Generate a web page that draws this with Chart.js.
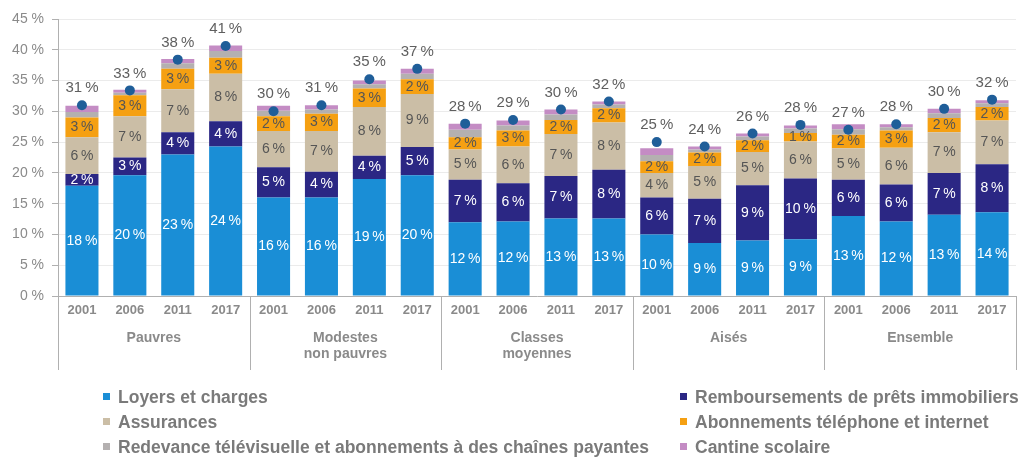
<!DOCTYPE html>
<html>
<head>
<meta charset="utf-8">
<script src="https://cdn.jsdelivr.net/npm/chart.js@4"></script>
<style>
  body { margin: 0; background: #fff; }
  #wrap { position: relative; width: 1023px; height: 457px; }
  .leg { position: absolute; font: bold 17.5px "Liberation Sans", Arial, sans-serif; color: #7a7a7a; white-space: nowrap; }
  .leg i { display: inline-block; width: 7px; height: 7px; margin-right: 8px; vertical-align: 3px; }
</style>
</head>
<body>
<div id="wrap">
  <canvas id="chart" width="1023" height="457"></canvas>
  <div id="legend"></div>
</div>
<script>
const years = ["2001", "2006", "2011", "2017"];
const groups = [["Pauvres"], ["Modestes", "non pauvres"], ["Classes", "moyennes"], ["Aisés"], ["Ensemble"]];

const loyers  = [17.9, 19.6, 23.0, 24.3, 16.0, 16.0, 19.0, 19.6, 12.0, 12.1, 12.6, 12.6, 10.0, 8.6, 9.0, 9.2, 13.0, 12.1, 13.2, 13.6];
const remb    = [1.9, 2.9, 3.6, 4.1, 4.9, 4.2, 3.8, 4.6, 6.9, 6.2, 6.9, 7.9, 6.0, 7.2, 9.0, 9.9, 5.9, 6.0, 6.8, 7.8];
const assur   = [6.0, 6.7, 7.0, 7.7, 5.9, 6.6, 7.9, 8.6, 4.9, 6.0, 6.8, 7.7, 4.0, 5.3, 5.4, 6.0, 5.1, 6.0, 6.6, 7.1];
const abon    = [3.2, 3.4, 3.3, 2.6, 2.4, 2.8, 3.0, 2.4, 2.0, 2.6, 2.3, 2.3, 1.9, 2.2, 1.9, 1.4, 2.2, 2.8, 2.3, 2.2];
const redev   = [0.9, 0.4, 0.9, 1.1, 0.9, 0.7, 0.7, 0.9, 1.2, 0.8, 0.9, 0.6, 1.0, 0.5, 0.6, 0.7, 0.9, 0.5, 0.8, 0.6];
const cantine = [1.0, 0.5, 0.7, 0.9, 0.8, 0.7, 0.6, 0.8, 1.0, 0.8, 0.8, 0.5, 1.1, 0.5, 0.5, 0.5, 0.8, 0.5, 0.7, 0.5];
const total   = [31.0, 33.4, 38.4, 40.6, 30.0, 31.0, 35.2, 36.9, 28.0, 28.6, 30.3, 31.6, 25.0, 24.3, 26.4, 27.8, 27.0, 27.9, 30.4, 31.9];

const yTicks = [0, 5, 10, 15, 20, 25, 30, 35, 40, 45];

const labels = [];
groups.forEach(() => years.forEach(y => labels.push(y)));

const series = [
  { label: "Loyers et charges", data: loyers, color: "#1a8ed6", text: "#ffffff" },
  { label: "Remboursements de prêts immobiliers", data: remb, color: "#2b2784", text: "#ffffff" },
  { label: "Assurances", data: assur, color: "#cbbea6", text: "#555555" },
  { label: "Abonnements téléphone et internet", data: abon, color: "#f5a012", text: "#555555" },
  { label: "Redevance télévisuelle et abonnements à des chaînes payantes", data: redev, color: "#b4b0b0", text: null },
  { label: "Cantine scolaire", data: cantine, color: "#c48cc4", text: null },
];

const FONT = '"Liberation Sans", Arial, sans-serif';
const pct = v => Math.round(v) + "\u2009%";

// segment and total labels
const labelPlugin = {
  id: "labels",
  afterDatasetsDraw(chart) {
    const ctx = chart.ctx;
    ctx.save();
    ctx.textAlign = "center";
    ctx.textBaseline = "middle";
    ctx.font = "14px " + FONT;
    series.forEach((s, i) => {
      if (!s.text) return;
      ctx.fillStyle = s.text;
      chart.getDatasetMeta(i).data.forEach((el, j) => {
        ctx.fillText(pct(s.data[j]), el.x, (el.y + el.base) / 2);
      });
    });
    ctx.fillStyle = "#5f5f5f";
    ctx.font = "15px " + FONT;
    chart.getDatasetMeta(series.length).data.forEach((pt, j) => {
      ctx.fillText(pct(total[j]), pt.x, pt.y - 17);
    });
    ctx.restore();
  },
};

// group separators and group names under the axis
const groupPlugin = {
  id: "groups",
  afterDraw(chart) {
    const ctx = chart.ctx;
    const x = chart.scales.x;
    const area = chart.chartArea;
    const n = years.length;
    const edge = b => {
      if (b === 0) return area.left;
      if (b === labels.length) return area.right;
      return (x.getPixelForValue(b - 1) + x.getPixelForValue(b)) / 2;
    };
    ctx.save();
    ctx.strokeStyle = "#b0b0b0";
    ctx.lineWidth = 1;
    for (let g = 0; g <= groups.length; g++) {
      const px = Math.round(edge(g * n)) + 0.5;
      ctx.beginPath();
      ctx.moveTo(px, area.bottom);
      ctx.lineTo(px, 370);
      ctx.stroke();
    }
    ctx.fillStyle = "#8a8a8a";
    ctx.font = "bold 14px " + FONT;
    ctx.textAlign = "center";
    ctx.textBaseline = "middle";
    groups.forEach((g, i) => {
      const cx = (x.getPixelForValue(i * n) + x.getPixelForValue(i * n + n - 1)) / 2;
      g.forEach((line, k) => ctx.fillText(line, cx, 338 + k * 16));
    });
    ctx.restore();
  },
};

const datasets = series.map(s => ({
  type: "bar",
  label: s.label,
  data: s.data,
  backgroundColor: s.color,
  categoryPercentage: 1,
  barPercentage: 0.69,
  stack: "parts",
}));
datasets.push({
  type: "line",
  label: "Total",
  data: total,
  showLine: false,
  pointRadius: 5,
  pointBackgroundColor: "#1f5e99",
  pointBorderWidth: 0,
  stack: "total",
  order: -1,
});

new Chart(document.getElementById("chart"), {
  data: { labels: labels, datasets: datasets },
  options: {
    responsive: false,
    animation: false,
    layout: { padding: { top: 19, right: 7, left: 0, bottom: 0 } },
    plugins: { legend: { display: false }, tooltip: { enabled: false } },
    scales: {
      x: {
        stacked: true,
        grid: { display: false, drawTicks: false },
        border: { color: "#b0b0b0" },
        ticks: { color: "#8a8a8a", font: { family: FONT, size: 13, weight: "bold" }, padding: 7, maxRotation: 0, autoSkip: false },
        afterFit(scale) { scale.height = 161; },
      },
      y: {
        stacked: true,
        min: 0,
        max: 45,
        afterBuildTicks(scale) { scale.ticks = yTicks.map(v => ({ value: v })); },
        grid: { color: "#ebebeb", tickLength: 6, tickColor: "#b0b0b0" },
        border: { color: "#b0b0b0" },
        ticks: { color: "#8a8a8a", font: { family: FONT, size: 14 }, padding: 8, callback: v => v + " %" },
        afterFit(scale) { scale.width = 58; },
      },
    },
  },
  plugins: [labelPlugin, groupPlugin],
});

// two-column legend
const legend = document.getElementById("legend");
const legendOrder = [[0, 103, 398], [2, 103, 423], [4, 103, 448], [1, 680, 398], [3, 680, 423], [5, 680, 448]];
legendOrder.forEach(([i, lx, ly]) => {
  const d = document.createElement("div");
  d.className = "leg";
  d.style.left = lx + "px";
  d.style.top = (ly - 11) + "px";
  d.innerHTML = '<i style="background:' + series[i].color + '"></i>' + series[i].label;
  legend.appendChild(d);
});
</script>
</body>
</html>
